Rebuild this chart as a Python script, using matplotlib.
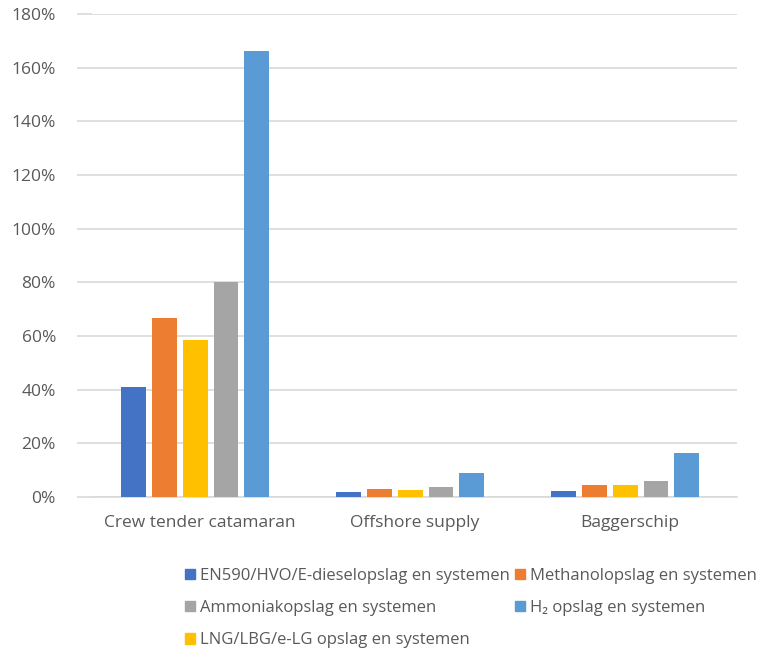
import numpy as np
import matplotlib.pyplot as plt
from matplotlib.patches import Patch

plt.rcParams['font.family'] = ['Open Sans', 'DejaVu Sans']

categories = ['Crew tender catamaran', 'Offshore supply', 'Baggerschip']

# waarden per opslagsysteem (in %)
en590 = [41, 1.9, 2.2]
methanol = [66.7, 3.0, 4.3]
lng = [58.5, 2.7, 4.5]
ammonia = [80, 3.7, 5.8]
h2 = [166.3, 8.8, 16.4]

series = [
    ('EN590/HVO/E-dieselopslag en systemen', en590, '#4472C4'),
    ('Methanolopslag en systemen', methanol, '#ED7D31'),
    ('LNG/LBG/e-LG opslag en systemen', lng, '#FFC000'),
    ('Ammoniakopslag en systemen', ammonia, '#A5A5A5'),
    ('H\u2082 opslag en systemen', h2, '#5B9BD5'),
]

W, H = 761, 649
fig = plt.figure(figsize=(W / 100, H / 100), dpi=100)
ax = fig.add_axes([92 / W, 1 - 497 / H, (737 - 92) / W, (497 - 14) / H])

x = np.arange(len(categories))
width = 0.115
step = 0.143
for i, (name, vals, col) in enumerate(series):
    ax.bar(x + (i - 2) * step - 0.02, vals, width=width, color=col, zorder=3)

ax.set_xlim(-0.5, 2.5)
ax.set_ylim(0, 180)
ax.set_yticks(np.arange(0, 181, 20))
ax.set_yticklabels([f'{v}%' for v in range(0, 181, 20)])
ax.set_xticks(x)
ax.set_xticklabels(categories)

ax.grid(axis='y', color='#D9D9D9', linewidth=1.2, zorder=0)
for s in ['top', 'right', 'left']:
    ax.spines[s].set_visible(False)
ax.spines['bottom'].set_color('#D9D9D9')
ax.spines['bottom'].set_linewidth(1.2)

ax.tick_params(axis='y', length=11, width=1.2, color='#D9D9D9', pad=15,
               labelsize=12.5, labelcolor='#595959')
ax.tick_params(axis='x', length=0, pad=13, labelsize=12.5, labelcolor='#595959')

# legenda: rijen EN590/Methanol, Ammoniak/H2, LNG
order = [0, 3, 2, 1, 4]
handles = [Patch(color=series[i][2], label=series[i][0]) for i in order]
fig.legend(handles=handles, loc='upper left', bbox_to_anchor=(178 / W, 1 - 561 / H),
           ncol=2, frameon=False, fontsize=12, labelcolor='#595959',
           handlelength=0.6, handleheight=0.6, handletextpad=0.3,
           columnspacing=0.3, labelspacing=0.98, borderaxespad=0)

fig.savefig('out.png', dpi=100)
